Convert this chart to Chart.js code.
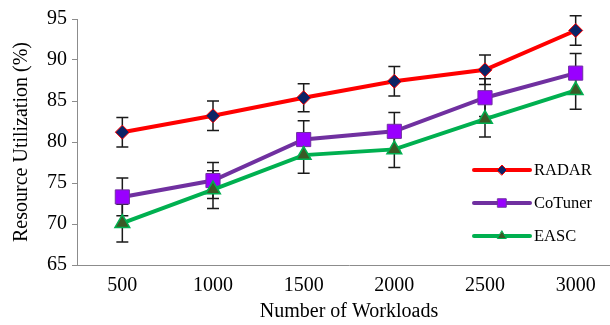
<!DOCTYPE html>
<html>
<head>
<meta charset="utf-8">
<script src="https://cdn.jsdelivr.net/npm/chart.js@4"></script>
<style>
  html, body { margin: 0; padding: 0; background: #fff; overflow: hidden; width: 610px; height: 325px; }
  #wrap { position: absolute; left: 0; top: 0; width: 632px; height: 325px; }
  canvas { display: block; width: 632px; height: 325px; }
</style>
</head>
<body>
<div id="wrap"><canvas id="chart" width="632" height="325"></canvas></div>
<script>
// Workload counts on the x axis
const workloads = ['500', '1000', '1500', '2000', '2500', '3000'];

// Mean resource utilization (%) per method
const radar   = [81.2, 83.2, 85.4, 87.4, 88.8, 93.6];
const cotuner = [73.3, 75.3, 80.3, 81.3, 85.4, 88.4];
const easc    = [70.1, 74.2, 78.4, 79.1, 82.8, 86.3];

// Error bar half-widths (%)
const radarErr   = [1.8, 1.8, 1.7, 1.8, 1.8, 1.8];
const cotunerErr = [2.3, 2.2, 2.3, 2.3, 2.3, 2.4];
const eascErr    = [2.3, 2.3, 2.2, 2.2, 2.2, 2.3];

// Y axis range and step
const yMin = 65, yMax = 95, yStep = 5;

const serif = "'Liberation Serif', 'Times New Roman', serif";
Chart.defaults.font.family = serif;
Chart.defaults.color = '#000';

// Vertical error bars with caps, drawn beneath the lines and markers
const errorBars = {
  id: 'errorBars',
  beforeDatasetsDraw(chart) {
    const { ctx, scales: { y } } = chart;
    ctx.save();
    ctx.strokeStyle = '#1a1a1a';
    ctx.lineWidth = 1.5;
    chart.data.datasets.forEach((ds, i) => {
      const meta = chart.getDatasetMeta(i);
      meta.data.forEach((pt, j) => {
        const v = ds.data[j], e = ds.errors[j];
        const top = y.getPixelForValue(v + e);
        const bot = y.getPixelForValue(v - e);
        const x = pt.x;
        ctx.beginPath();
        ctx.moveTo(x, top); ctx.lineTo(x, bot);
        ctx.moveTo(x - 6, top); ctx.lineTo(x + 6, top);
        ctx.moveTo(x - 6, bot); ctx.lineTo(x + 6, bot);
        ctx.stroke();
      });
    });
    ctx.restore();
  }
};

// Legend stacked inside the plot area, on the right
const insideLegend = {
  id: 'insideLegend',
  afterDraw(chart) {
    const { ctx } = chart;
    const x0 = 474, x1 = 530;
    let yPos = 170;
    const entries = chart.data.datasets.slice().sort((a, b) => a.legendRank - b.legendRank);
    ctx.save();
    entries.forEach(ds => {
      ctx.strokeStyle = ds.borderColor;
      ctx.lineWidth = 4;
      ctx.lineCap = 'round';
      ctx.beginPath();
      ctx.moveTo(x0, yPos); ctx.lineTo(x1, yPos);
      ctx.stroke();
      ctx.fillStyle = ds.pointBackgroundColor;
      ctx.strokeStyle = ds.pointBorderColor;
      ctx.lineWidth = 1;
      Chart.helpers.drawPoint(ctx, {
        pointStyle: ds.pointStyle,
        radius: ds.legendRadius,
        rotation: 0,
        borderWidth: 1
      }, (x0 + x1) / 2, yPos);
      ctx.fillStyle = '#000';
      ctx.font = '16.5px ' + serif;
      ctx.textBaseline = 'middle';
      ctx.textAlign = 'left';
      ctx.fillText(ds.label, x1 + 4, yPos + 1);
      yPos += 33;
    });
    ctx.restore();
  }
};

new Chart(document.getElementById('chart'), {
  type: 'line',
  data: {
    labels: workloads,
    datasets: [
      {
        label: 'RADAR', data: radar, errors: radarErr, legendRank: 0, legendRadius: 5,
        borderColor: '#ff0000', borderWidth: 4,
        pointStyle: 'rectRot', pointRadius: 7,
        pointBackgroundColor: '#0b2466', pointBorderColor: '#ff0000', pointBorderWidth: 1,
        order: 3
      },
      {
        label: 'CoTuner', data: cotuner, errors: cotunerErr, legendRank: 1, legendRadius: 6,
        borderColor: '#7030a0', borderWidth: 4,
        pointStyle: 'rect', pointRadius: 10,
        pointBackgroundColor: '#9900ff', pointBorderColor: '#7030a0', pointBorderWidth: 1,
        order: 2
      },
      {
        label: 'EASC', data: easc, errors: eascErr, legendRank: 2, legendRadius: 5,
        borderColor: '#00b050', borderWidth: 4,
        pointStyle: 'triangle', pointRadius: 8.5,
        pointBackgroundColor: '#3a5a26', pointBorderColor: '#00b050', pointBorderWidth: 1.5,
        order: 1
      }
    ]
  },
  options: {
    responsive: false,
    maintainAspectRatio: false,
    animation: false,
    events: [],
    layout: { padding: { top: 19, right: 0, left: 0, bottom: 0 } },
    plugins: { legend: { display: false }, tooltip: { enabled: false } },
    elements: { line: { tension: 0 } },
    scales: {
      x: {
        offset: true,
        grid: { display: false, drawTicks: false },
        border: { display: true, color: '#8c8c8c', width: 1 },
        ticks: { font: { size: 20 }, color: '#000', padding: 9, maxRotation: 0 },
        title: { display: true, text: 'Number of Workloads', font: { size: 20 }, color: '#000', padding: { top: 2, bottom: 1 } },
        afterFit(scale) { scale.height = 60; }
      },
      y: {
        min: yMin, max: yMax,
        grid: { drawOnChartArea: false, drawTicks: true, tickLength: 5, color: '#8c8c8c' },
        border: { display: true, color: '#8c8c8c', width: 1 },
        ticks: { stepSize: yStep, font: { size: 20 }, color: '#000', padding: 5 },
        title: { display: true, text: 'Resource Utilization (%)', font: { size: 20 }, color: '#000', padding: { top: 10, bottom: 0 } },
        afterFit(scale) { scale.width = 77; }
      }
    }
  },
  plugins: [errorBars, insideLegend]
});
</script>
</body>
</html>
